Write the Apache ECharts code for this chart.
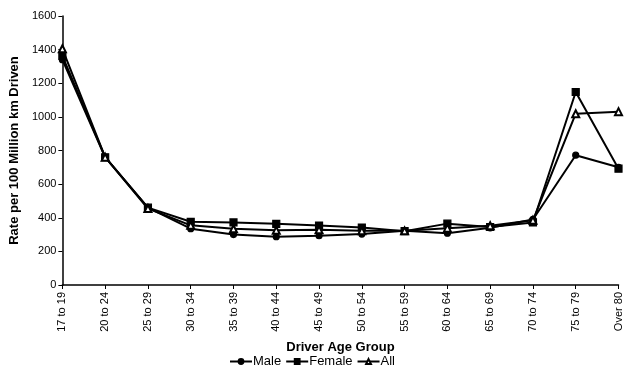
<!DOCTYPE html>
<html><head><meta charset="utf-8">
<script src="https://cdn.jsdelivr.net/npm/echarts@6/dist/echarts.min.js"></script>
<style>html,body{margin:0;padding:0;background:#fff}#c{width:624px;height:367px}</style>
</head><body><div id="c"></div>
<script>
var categories = ['17 to 19','20 to 24','25 to 29','30 to 34','35 to 39','40 to 44','45 to 49','50 to 54','55 to 59','60 to 64','65 to 69','70 to 74','75 to 79','Over 80'];
var male   = [1340, 760, 460, 335, 300, 287, 293, 303, 322, 308, 340, 390, 772, 700];
var female = [1362, 760, 460, 376, 372, 364, 354, 342, 320, 365, 345, 372, 1148, 692];
var all    = [1405, 760, 455, 355, 335, 325, 328, 322, 322, 338, 352, 385, 1019, 1031];
var yTicks = {min: 0, max: 1600, interval: 200};

var font = 'Liberation Sans, Arial, sans-serif';
var chart = echarts.init(document.getElementById('c'));
function ser(name, data, symbol, size) {
  return {name: name, type: 'line', data: data, symbol: symbol, symbolSize: size,
    showAllSymbol: true,
    lineStyle: {color: '#000', width: 2}, itemStyle: {color: '#000', borderColor: '#000', borderWidth: 1.2},
    emphasis: {disabled: true}, animation: false};
}
chart.setOption({
  animation: false,
  textStyle: {fontFamily: font},
  grid: {left: 61, right: 3, top: 16, bottom: 82},
  legend: {bottom: -1, left: 'center', padding: 0, itemWidth: 22, itemHeight: 6, itemGap: 4,
    textStyle: {fontFamily: font, fontSize: 13, color: '#000', padding: [0,0,0,-4]},
    data: ['Male','Female','All']},
  xAxis: {type: 'category', data: categories, boundaryGap: false,
    name: 'Driver Age Group', nameLocation: 'middle', nameGap: 56,
    nameTextStyle: {fontFamily: font, fontSize: 13, fontWeight: 'bold', color: '#000'},
    axisLine: {lineStyle: {color: '#000', width: 1.5}},
    axisTick: {alignWithLabel: true, length: 4, lineStyle: {color: '#000'}},
    axisLabel: {rotate: 90, fontSize: 11, color: '#000', margin: 7, interval: 0, fontFamily: font},
    splitLine: {show: false}},
  yAxis: {type: 'value', min: yTicks.min, max: yTicks.max, interval: yTicks.interval,
    name: 'Rate per 100 Million km Driven', nameLocation: 'middle', nameGap: 40,
    nameTextStyle: {fontFamily: font, fontSize: 13, fontWeight: 'bold', color: '#000'},
    axisLine: {show: true, lineStyle: {color: '#000', width: 1.5}},
    axisTick: {show: true, length: 4, lineStyle: {color: '#000'}},
    axisLabel: {fontSize: 11, color: '#000', margin: 6, fontFamily: font, formatter: function (v) { return String(v); }},
    splitLine: {show: false}},
  series: [
    ser('Male', male, 'circle', 6),
    ser('Female', female, 'rect', 7),
    ser('All', all, 'emptyTriangle', 7)
  ]
});
</script></body></html>
